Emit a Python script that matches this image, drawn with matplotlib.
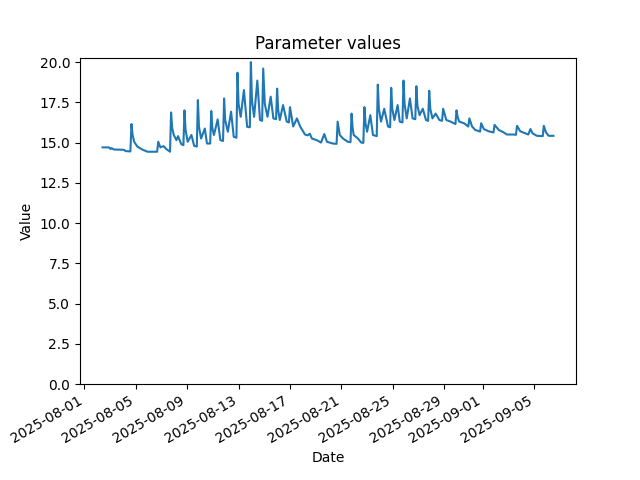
import matplotlib
matplotlib.use("Agg")
import matplotlib.pyplot as plt
import pandas as pd

timestamps = [
    "2025-08-02 10:00", "2025-08-02 22:00", "2025-08-03 01:00", "2025-08-03 03:00",
    "2025-08-03 07:00", "2025-08-04 02:00", "2025-08-04 05:00", "2025-08-04 14:00",
    "2025-08-04 16:00", "2025-08-04 18:00", "2025-08-04 21:00", "2025-08-05 03:00",
    "2025-08-05 12:00", "2025-08-05 22:00", "2025-08-06 13:00", "2025-08-06 16:00",
    "2025-08-06 18:00", "2025-08-06 22:00", "2025-08-07 04:00", "2025-08-07 09:00",
    "2025-08-07 16:00", "2025-08-07 18:00", "2025-08-07 20:00", "2025-08-07 23:00",
    "2025-08-08 04:00", "2025-08-08 07:00", "2025-08-08 13:00", "2025-08-08 17:00",
    "2025-08-08 19:00", "2025-08-08 21:00", "2025-08-09 01:00", "2025-08-09 08:00",
    "2025-08-09 13:00", "2025-08-09 18:00", "2025-08-09 20:00", "2025-08-09 22:00",
    "2025-08-10 02:00", "2025-08-10 09:00", "2025-08-10 13:00", "2025-08-10 19:00",
    "2025-08-10 21:00", "2025-08-10 23:00", "2025-08-11 02:00", "2025-08-11 09:00",
    "2025-08-11 14:00", "2025-08-11 19:00", "2025-08-11 21:00", "2025-08-11 23:00",
    "2025-08-12 04:00", "2025-08-12 10:00", "2025-08-12 15:00", "2025-08-12 20:00",
    "2025-08-12 22:00", "2025-08-13 00:00", "2025-08-13 04:00", "2025-08-13 10:00",
    "2025-08-13 16:00", "2025-08-13 21:00", "2025-08-13 23:00", "2025-08-14 01:00",
    "2025-08-14 05:00", "2025-08-14 11:00", "2025-08-14 16:00", "2025-08-14 20:00",
    "2025-08-14 22:00", "2025-08-15 01:00", "2025-08-15 06:00", "2025-08-15 12:00",
    "2025-08-15 17:00", "2025-08-15 22:00", "2025-08-16 00:00", "2025-08-16 02:00",
    "2025-08-16 05:00", "2025-08-16 11:00", "2025-08-16 18:00", "2025-08-16 22:00",
    "2025-08-17 00:00", "2025-08-17 06:00", "2025-08-17 13:00", "2025-08-17 19:00",
    "2025-08-18 04:00", "2025-08-18 09:00", "2025-08-18 13:00", "2025-08-18 17:00",
    "2025-08-19 02:00", "2025-08-19 10:00", "2025-08-19 16:00", "2025-08-19 21:00",
    "2025-08-20 08:00", "2025-08-20 15:00", "2025-08-20 17:00", "2025-08-20 21:00",
    "2025-08-21 03:00", "2025-08-21 12:00", "2025-08-21 17:00", "2025-08-21 19:00",
    "2025-08-21 21:00", "2025-08-21 23:00", "2025-08-22 07:00", "2025-08-22 13:00",
    "2025-08-22 17:00", "2025-08-22 19:00", "2025-08-22 21:00", "2025-08-23 00:00",
    "2025-08-23 06:00", "2025-08-23 11:00", "2025-08-23 18:00", "2025-08-23 20:00",
    "2025-08-23 22:00", "2025-08-24 02:00", "2025-08-24 08:00", "2025-08-24 15:00",
    "2025-08-24 19:00", "2025-08-24 21:00", "2025-08-24 23:00", "2025-08-25 03:00",
    "2025-08-25 09:00", "2025-08-25 13:00", "2025-08-25 18:00", "2025-08-25 20:00",
    "2025-08-25 22:00", "2025-08-26 02:00", "2025-08-26 08:00", "2025-08-26 13:00",
    "2025-08-26 18:00", "2025-08-26 20:00", "2025-08-26 22:00", "2025-08-27 02:00",
    "2025-08-27 08:00", "2025-08-27 14:00", "2025-08-27 18:00", "2025-08-27 20:00",
    "2025-08-27 22:00", "2025-08-28 02:00", "2025-08-28 08:00", "2025-08-28 15:00",
    "2025-08-28 20:00", "2025-08-28 22:00", "2025-08-29 04:00", "2025-08-29 12:00",
    "2025-08-29 21:00", "2025-08-29 23:00", "2025-08-30 01:00", "2025-08-30 04:00",
    "2025-08-30 13:00", "2025-08-30 21:00", "2025-08-30 23:00", "2025-08-31 04:00",
    "2025-08-31 10:00", "2025-08-31 16:00", "2025-08-31 19:00", "2025-08-31 21:00",
    "2025-09-01 02:00", "2025-09-01 11:00", "2025-09-01 17:00", "2025-09-01 20:00",
    "2025-09-01 22:00", "2025-09-02 06:00", "2025-09-02 15:00", "2025-09-02 21:00",
    "2025-09-03 10:00", "2025-09-03 14:00", "2025-09-03 16:00", "2025-09-03 22:00",
    "2025-09-04 08:00", "2025-09-04 13:00", "2025-09-04 17:00", "2025-09-04 21:00",
    "2025-09-05 05:00", "2025-09-05 16:00", "2025-09-05 18:00", "2025-09-05 22:00",
    "2025-09-06 03:00", "2025-09-06 12:00",
]

values = [
    14.70, 14.70, 14.60, 14.65,
    14.57, 14.55, 14.47, 14.45,
    16.15, 15.50, 15.05, 14.75,
    14.57, 14.43, 14.43, 14.43,
    15.05, 14.70, 14.78, 14.60,
    14.43, 16.87, 15.90, 15.47,
    15.15, 15.40, 14.90, 14.84,
    17.00, 15.80, 15.05, 15.47,
    14.80, 14.75, 17.64, 16.00,
    15.25, 15.87, 14.94, 14.94,
    16.96, 15.90, 15.47, 16.44,
    15.15, 15.10, 17.74, 16.40,
    15.67, 16.92, 15.36, 15.30,
    19.34, 17.40, 16.60, 18.26,
    15.98, 15.95, 20.00, 17.60,
    16.60, 18.85, 16.40, 16.35,
    19.60, 17.40, 16.60, 17.85,
    16.50, 16.45, 18.35, 17.00,
    16.40, 17.33, 16.30, 16.25,
    17.20, 16.00, 16.50, 16.00,
    15.50, 15.45, 15.55, 15.25,
    15.15, 15.00, 15.53, 15.05,
    14.94, 14.92, 16.30, 15.47,
    15.25, 15.05, 15.02, 16.80,
    15.90, 15.47, 15.25, 15.00,
    14.98, 17.20, 16.20, 15.67,
    16.70, 15.47, 15.40, 18.60,
    17.10, 16.30, 17.10, 16.00,
    15.95, 18.40, 17.10, 16.40,
    17.33, 16.30, 16.25, 18.85,
    17.40, 16.50, 17.74, 16.50,
    16.45, 18.50, 17.30, 16.70,
    17.10, 16.40, 16.35, 18.22,
    17.10, 16.50, 16.80, 16.40,
    16.35, 17.10, 16.40, 16.30,
    16.15, 17.00, 16.60, 16.30,
    16.20, 16.00, 16.50, 16.00,
    15.78, 15.72, 15.68, 16.20,
    15.84, 15.70, 15.65, 15.63,
    16.10, 15.78, 15.63, 15.50,
    15.50, 15.48, 16.04, 15.70,
    15.57, 15.50, 15.84, 15.57,
    15.42, 15.40, 16.04, 15.63,
    15.42, 15.42,
]

dates = pd.to_datetime(timestamps)

fig, ax = plt.subplots(figsize=(6.4, 4.8), dpi=100)
ax.plot(dates, values)
ax.set_ylim(bottom=0)
ax.set_title("Parameter values")
ax.set_xlabel("Date")
ax.set_ylabel("Value")
fig.autofmt_xdate()
fig.savefig("out.png")
